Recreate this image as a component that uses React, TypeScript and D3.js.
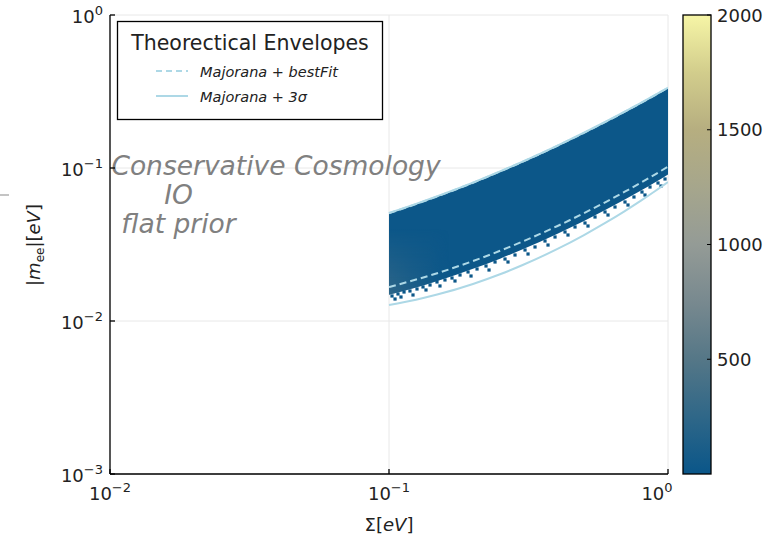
import React from 'react';
import * as d3 from 'd3';

// Canvas and plot frame
const W = 769;
const H = 544;
const PLOT = { left: 110, right: 668, top: 15, bottom: 474 };
const CBAR = { left: 683, right: 711 };

// Sum of neutrino masses (eV) at which the envelopes and sample edges are read
const sigmaGrid = [0.1, 0.125, 0.15, 0.2, 0.25, 0.3, 0.4, 0.5, 0.6, 0.7, 0.8, 0.9, 1.0];

// Theoretical envelopes |m_ee| (eV)
const upper3Sigma = [0.0508, 0.0583, 0.0657, 0.0803, 0.095, 0.1097, 0.1396, 0.1701, 0.2015, 0.2336, 0.2665, 0.3003, 0.335];
const lower3Sigma = [0.01274, 0.01378, 0.01494, 0.01747, 0.02021, 0.02314, 0.02948, 0.03648, 0.04408, 0.05232, 0.06119, 0.07071, 0.0809];
const upperBestFit = [0.0506, 0.0581, 0.0655, 0.0801, 0.0948, 0.1095, 0.1393, 0.1698, 0.2011, 0.2332, 0.2661, 0.2998, 0.3344];
const lowerBestFit = [0.01667, 0.01865, 0.02062, 0.02465, 0.02876, 0.03296, 0.04163, 0.0507, 0.06016, 0.07, 0.08027, 0.09091, 0.1021];

// Edges of the bulk of the sampled (histogrammed) region
const sampleTop = [0.0503, 0.0577, 0.065, 0.0795, 0.094, 0.1086, 0.1382, 0.1684, 0.1995, 0.2313, 0.2638, 0.2973, 0.3316];
const sampleBottom = [0.01482, 0.01658, 0.01833, 0.02194, 0.02555, 0.02935, 0.03705, 0.04505, 0.05353, 0.0622, 0.07137, 0.08083, 0.09077];

// Higher counts close to the lower mass limit
const denseSigma = [0.1, 0.108, 0.12, 0.14, 0.165];
const denseCount = [520, 420, 300, 150, 20];
const bulkCount = 15;

// Sparsely occupied bins forming the ragged fringe of the sample
const strayBins: [number, number][] = [
  [0.1025, 0.01457], [0.1051, 0.01392], [0.1077, 0.01502], [0.1104, 0.01435], [0.1132, 0.01547],
  [0.1189, 0.01571], [0.1219, 0.01479], [0.126, 0.01619], [0.1324, 0.01669], [0.1357, 0.01595],
  [0.1403, 0.01719], [0.1486, 0.01799], [0.1523, 0.01694], [0.1587, 0.01854], [0.1682, 0.0191],
  [0.1724, 0.01826], [0.1797, 0.01998], [0.192, 0.02091], [0.1968, 0.01968], [0.2068, 0.02187],
  [0.2227, 0.02288], [0.2283, 0.02154], [0.2399, 0.0243], [0.2605, 0.02542], [0.267, 0.0243],
  [0.2829, 0.027], [0.3073, 0.02911], [0.315, 0.02741], [0.3337, 0.03046], [0.3624, 0.03333],
  [0.3715, 0.03137], [0.3936, 0.0354], [0.4274, 0.03817], [0.4381, 0.03648], [0.4642, 0.04116],
  [0.5041, 0.0437], [0.5167, 0.04177], [0.5475, 0.04783], [0.5946, 0.05158], [0.6095, 0.04929],
  [0.6457, 0.0556], [0.7013, 0.05995], [0.7188, 0.05729], [0.7551, 0.06463], [0.8068, 0.06967],
  [0.827, 0.06658], [0.862, 0.0751], [0.9208, 0.0798], [0.9438, 0.07626], [0.9756, 0.08475],
  [0.985, 0.285], [0.96, 0.3],
];

// Axis ticks
const xTickExps = [-2, -1, 0];
const yTickExps = [-3, -2, -1, 0];
const cbarTicks = [500, 1000, 1500, 2000];
const cbarMax = 2000;

// Colour map: count -> colour
const cmapCounts = [0, 250, 500, 750, 1000, 1250, 1500, 1750, 2000];
const cmapColors = ['#0a5689', '#2f6788', '#557787', '#78898f', '#949b96', '#a6a68c', '#b6ae80', '#d2cd8c', '#f6f5a6'];

// Legend entries
const legendTitle = 'Theorectical Envelopes';
const legendItems = [
  { name: 'bestFit', dashed: true },
  { name: '3σ', dashed: false },
];

const annotationLines = ['Conservative Cosmology', 'IO', 'flat prior'];

const FONT = 'DejaVu Sans, Verdana, sans-serif';
const ENVELOPE = '#add8e6';

const x = d3.scaleLog().domain([0.01, 1]).range([PLOT.left, PLOT.right]);
const y = d3.scaleLog().domain([0.001, 1]).range([PLOT.bottom, PLOT.top]);
const cy = d3.scaleLinear().domain([0, cbarMax]).range([PLOT.bottom, PLOT.top]);
const color = d3
  .scaleLinear<string>()
  .domain(cmapCounts)
  .range(cmapColors)
  .interpolate(d3.interpolateRgb);

const idx = sigmaGrid.map((_, i) => i);

const bandPath = d3
  .area<number>()
  .x((i) => x(sigmaGrid[i]))
  .y0((i) => y(sampleBottom[i]))
  .y1((i) => y(sampleTop[i]))
  .curve(d3.curveMonotoneX)(idx) as string;

const linePath = (vals: number[]) =>
  d3
    .line<number>()
    .x((i) => x(sigmaGrid[i]))
    .y((i) => y(vals[i]))
    .curve(d3.curveMonotoneX)(idx) as string;

function Pow10({ exp, ...rest }: { exp: number } & React.SVGProps<SVGTextElement>) {
  const sup = exp < 0 ? `\u2212${-exp}` : `${exp}`;
  return (
    <text {...rest}>
      10
      <tspan fontSize={13} dy={-8}>
        {sup}
      </tspan>
    </text>
  );
}

export default function App() {
  const dx0 = x(denseSigma[0]);
  const dx1 = x(denseSigma[denseSigma.length - 1]);
  const cbarStops = cmapCounts.map((c) => ({ off: c / cbarMax, col: color(c) }));
  const bin = 3.2;

  return (
    <svg
      width={W}
      height={H}
      viewBox={`0 0 ${W} ${H}`}
      style={{ position: 'absolute', left: 0, top: 0, background: '#fff' }}
      fontFamily={FONT}
    >
      <defs>
        <clipPath id="plotClip">
          <rect x={PLOT.left} y={PLOT.top} width={PLOT.right - PLOT.left} height={PLOT.bottom - PLOT.top} />
        </clipPath>
        <clipPath id="bandClip">
          <path d={bandPath} />
        </clipPath>
        <linearGradient id="denseGrad" gradientUnits="userSpaceOnUse" x1={dx0} x2={dx1} y1={0} y2={0}>
          {denseSigma.map((s, i) => (
            <stop
              key={i}
              offset={(x(s) - dx0) / (dx1 - dx0)}
              stopColor={color(denseCount[i])}
              stopOpacity={i === denseSigma.length - 1 ? 0 : 0.45}
            />
          ))}
        </linearGradient>
        <linearGradient id="denseFade" gradientUnits="userSpaceOnUse" x1={0} x2={0} y1={y(0.015)} y2={y(0.04)}>
          <stop offset={0} stopColor="#fff" />
          <stop offset={1} stopColor="#000" />
        </linearGradient>
        <mask id="denseMask">
          <rect x={PLOT.left} y={PLOT.top} width={PLOT.right - PLOT.left} height={PLOT.bottom - PLOT.top} fill="url(#denseFade)" />
        </mask>
        <linearGradient id="cbarGrad" x1="0" x2="0" y1="1" y2="0">
          {cbarStops.map((s, i) => (
            <stop key={i} offset={s.off} stopColor={s.col} />
          ))}
        </linearGradient>
      </defs>

      <rect width={W} height={H} fill="#fff" />

      {/* grid */}
      <g stroke="#e8e8e8" strokeWidth={1}>
        {xTickExps.map((e) => (
          <line key={`gx${e}`} x1={x(10 ** e)} x2={x(10 ** e)} y1={PLOT.top} y2={PLOT.bottom} />
        ))}
        {yTickExps.map((e) => (
          <line key={`gy${e}`} x1={PLOT.left} x2={PLOT.right} y1={y(10 ** e)} y2={y(10 ** e)} />
        ))}
      </g>

      {/* annotation */}
      <g fill="#808080" fontStyle="italic" fontSize={26.5} textAnchor="middle">
        <text x={276} y={175}>{annotationLines[0]}</text>
        <text x={178.5} y={204}>{annotationLines[1]}</text>
        <text x={178.5} y={233}>{annotationLines[2]}</text>
      </g>

      <g clipPath="url(#plotClip)">
        {/* sampled region as a 2D histogram */}
        <path d={bandPath} fill={color(bulkCount)} />
        <g clipPath="url(#bandClip)">
          <rect
            x={dx0}
            y={PLOT.top}
            width={dx1 - dx0}
            height={PLOT.bottom - PLOT.top}
            fill="url(#denseGrad)"
            mask="url(#denseMask)"
          />
        </g>
        {strayBins.map(([s, m], i) => (
          <rect key={i} x={x(s) - bin / 2} y={y(m) - bin / 2} width={bin} height={bin} fill={color(bulkCount)} />
        ))}

        {/* envelopes */}
        <g fill="none" stroke={ENVELOPE} strokeWidth={2}>
          <path d={linePath(upperBestFit)} strokeDasharray="7,4" />
          <path d={linePath(lowerBestFit)} strokeDasharray="7,4" />
          <path d={linePath(upper3Sigma)} />
          <path d={linePath(lower3Sigma)} />
        </g>
      </g>

      {/* axes */}
      <g stroke="#000" strokeWidth={1.3}>
        <line x1={PLOT.left} x2={PLOT.left} y1={PLOT.top} y2={PLOT.bottom} />
        <line x1={PLOT.left} x2={PLOT.right} y1={PLOT.bottom} y2={PLOT.bottom} />
        {xTickExps.map((e) => (
          <line key={`tx${e}`} x1={x(10 ** e)} x2={x(10 ** e)} y1={PLOT.bottom} y2={PLOT.bottom - 5} />
        ))}
        {yTickExps.map((e) => (
          <line key={`ty${e}`} x1={PLOT.left} x2={PLOT.left + 5} y1={y(10 ** e)} y2={y(10 ** e)} />
        ))}
      </g>

      <g fontSize={18} fill="#222">
        {xTickExps.map((e) => (
          <Pow10 key={`lx${e}`} exp={e} x={x(10 ** e) + (e === 0 ? -11 : 0)} y={PLOT.bottom + 26} textAnchor="middle" />
        ))}
        {yTickExps.map((e) => (
          <Pow10 key={`ly${e}`} exp={e} x={PLOT.left - 7} y={y(10 ** e) + 8} textAnchor="end" />
        ))}
      </g>

      {/* axis titles */}
      <text x={389} y={531} fontSize={18} textAnchor="middle" fill="#222">
        Σ[<tspan fontStyle="italic">eV</tspan>]
      </text>
      <text transform="translate(40,245) rotate(-90)" fontSize={18} textAnchor="middle" fill="#222">
        |<tspan fontStyle="italic">m</tspan>
        <tspan fontSize={12} dy={4}>ee</tspan>
        <tspan dy={-4}>|[</tspan>
        <tspan fontStyle="italic">eV</tspan>]
      </text>
      <line x1={0} x2={9} y1={195} y2={195} stroke="#c4c4c4" strokeWidth={2} />

      {/* legend */}
      <g>
        <rect x={117.5} y={21.5} width={265} height={98} fill="#fff" stroke="#000" strokeWidth={1.3} />
        <text x={250} y={50} fontSize={20.5} textAnchor="middle" fill="#222">
          {legendTitle}
        </text>
        {legendItems.map((it, i) => (
          <g key={it.name}>
            <line
              x1={156}
              x2={188}
              y1={71 + i * 25}
              y2={71 + i * 25}
              stroke={ENVELOPE}
              strokeWidth={2}
              strokeDasharray={it.dashed ? '6,4' : undefined}
            />
            <text x={200} y={77 + i * 25} fontSize={14.5} fontStyle="italic" fill="#222">
              Majorana + {it.name}
            </text>
          </g>
        ))}
      </g>

      {/* colour bar */}
      <rect
        x={CBAR.left}
        y={PLOT.top}
        width={CBAR.right - CBAR.left}
        height={PLOT.bottom - PLOT.top}
        fill="url(#cbarGrad)"
        stroke="#000"
        strokeWidth={1.3}
      />
      <g stroke="#000" strokeWidth={1}>
        {cbarTicks.map((t) => (
          <line key={t} x1={CBAR.right - 4} x2={CBAR.right} y1={cy(t)} y2={cy(t)} />
        ))}
      </g>
      <g fontSize={18} fill="#222">
        {cbarTicks.map((t) => (
          <text key={t} x={717} y={cy(t) + 6.5}>
            {t}
          </text>
        ))}
      </g>
    </svg>
  );
}
